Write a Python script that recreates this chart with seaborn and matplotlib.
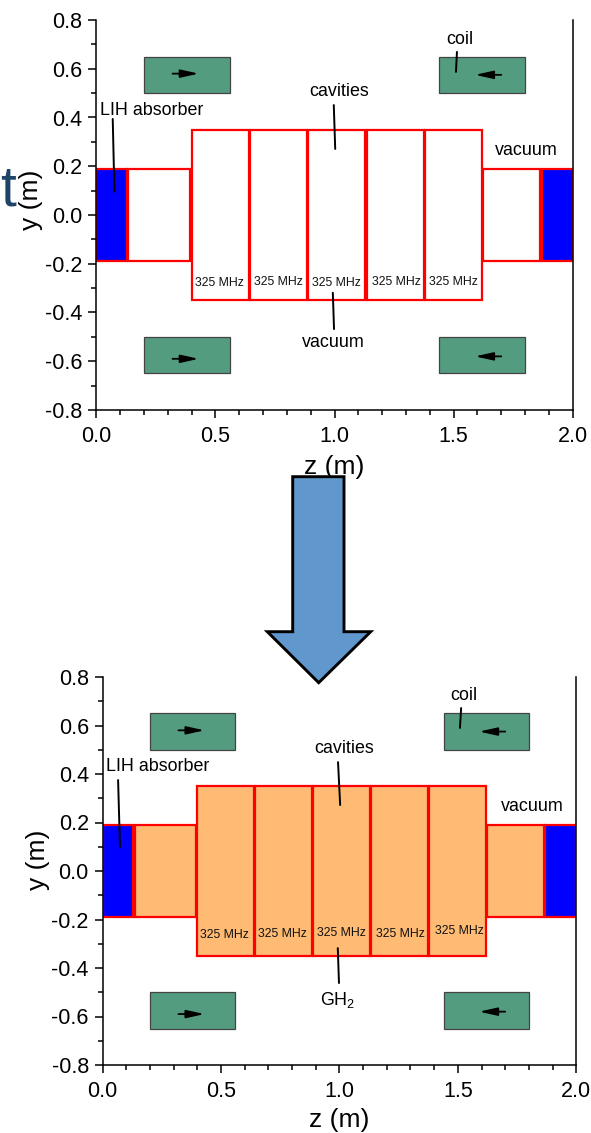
import matplotlib
matplotlib.use('Agg')
import matplotlib.pyplot as plt
import seaborn as sns
from matplotlib.patches import Polygon
from matplotlib.ticker import MultipleLocator

W, H = 591, 1133

# Geometry of the target, metres
absorber_z = [0.0, 1.87]
absorber_w = [0.13, 0.13]
pipe_z = [0.135, 1.625]
pipe_w = [0.258, 0.238]
cavity_z = [0.40, 0.645, 0.89, 1.135, 1.38]
cavity_w = [0.24, 0.24, 0.24, 0.24, 0.24]
coil_z = [0.20, 1.44, 0.20, 1.44]
coil_y = [0.50, 0.50, -0.65, -0.65]
coil_w = 0.36
coil_h = 0.15
pipe_r = 0.19
cavity_r = 0.35

# Current arrows: start z, end z, y
arrow_start = [0.32, 1.70, 0.32, 1.70]
arrow_end = [0.43, 1.59, 0.43, 1.59]
arrow_y = [0.58, 0.575, -0.59, -0.58]

freq_label = '325 MHz'
freq_z_top = [0.515, 0.763, 1.009, 1.258, 1.500]
freq_y_top = [-0.278, -0.275, -0.281, -0.275, -0.275]
freq_z_bottom = [0.515, 0.760, 1.007, 1.256, 1.505]
freq_y_bottom = [-0.264, -0.260, -0.254, -0.260, -0.247]

# text, z, y
labels_top = [('LIH absorber', 0.233, 0.427), ('coil', 1.527, 0.722), ('cavities', 1.019, 0.505),
              ('vacuum', 1.804, 0.263), ('vacuum', 0.994, -0.525)]
labels_bottom = [('LIH absorber', 0.234, 0.429), ('coil', 1.526, 0.722), ('cavities', 1.019, 0.507),
                 ('vacuum', 1.814, 0.264), ('GH$_2$', 0.994, -0.532)]

# leader lines: z0, y0, z1, y1
leaders_top = [(0.069, 0.394, 0.076, 0.096), (1.514, 0.669, 1.510, 0.587),
               (0.997, 0.451, 1.003, 0.271), (0.993, -0.319, 0.998, -0.468)]
leaders_bottom = [(0.065, 0.375, 0.073, 0.099), (1.514, 0.672, 1.509, 0.590),
                  (0.994, 0.449, 1.003, 0.272), (0.993, -0.318, 0.998, -0.462)]

sns.set_theme(style='ticks')
plt.rcParams['font.family'] = ['Liberation Sans', 'DejaVu Sans']
plt.rcParams['mathtext.fontset'] = 'custom'
plt.rcParams['mathtext.rm'] = 'Liberation Sans'
plt.rcParams['mathtext.default'] = 'regular'
plt.rcParams['axes.unicode_minus'] = False


def px_axes(fig, left, right, top, bottom):
    return fig.add_axes([left / W, 1 - bottom / H, (right - left) / W, (bottom - top) / H])


def draw_panel(ax, fill, freq_z, freq_y, labels, leaders, xlabel_pos, ylabel_pos):
    face = fill if fill else 'white'
    # cavities and beam pipes
    ax.bar(pipe_z, 2 * pipe_r, width=pipe_w, bottom=-pipe_r, align='edge',
           facecolor=face, edgecolor='red', linewidth=1.6, zorder=2)
    ax.bar(cavity_z, 2 * cavity_r, width=cavity_w, bottom=-cavity_r, align='edge',
           facecolor=face, edgecolor='red', linewidth=1.6, zorder=2)
    ax.bar(absorber_z, 2 * pipe_r, width=absorber_w, bottom=-pipe_r, align='edge',
           facecolor='#0000ff', edgecolor='red', linewidth=1.6, zorder=2)
    # coils
    ax.bar(coil_z, coil_h, width=coil_w, bottom=coil_y, align='edge',
           facecolor='#549c80', edgecolor='#444444', linewidth=0.9, zorder=2)
    for z0, z1, y in zip(arrow_start, arrow_end, arrow_y):
        ax.annotate('', xy=(z1, y), xytext=(z0, y), zorder=4,
                    arrowprops=dict(arrowstyle='-|>,head_length=0.9,head_width=0.2', color='black',
                                    lw=1.3, shrinkA=0, shrinkB=0))
    for z, y in zip(freq_z, freq_y):
        ax.text(z, y, freq_label, fontsize=8.8, color='#111111', ha='center', va='center', zorder=5)
    for text, z, y in labels:
        ax.text(z, y, text, fontsize=12.9, color='black', ha='center', va='center', zorder=5)
    for z0, y0, z1, y1 in leaders:
        ax.plot([z0, z1], [y0, y1], color='black', lw=1.4, zorder=4)

    ax.set_xlim(0, 2)
    ax.set_ylim(-0.8, 0.8)
    ax.xaxis.set_major_locator(MultipleLocator(0.5))
    ax.xaxis.set_minor_locator(MultipleLocator(0.1))
    ax.yaxis.set_major_locator(MultipleLocator(0.2))
    ax.yaxis.set_minor_locator(MultipleLocator(0.1))
    ax.xaxis.set_major_formatter('{x:.1f}')
    ax.yaxis.set_major_formatter('{x:.1f}')
    ax.tick_params(which='major', length=6, width=1.1, labelsize=15.5, colors='black', pad=4)
    ax.tick_params(axis='x', which='major', pad=5.5)
    ax.tick_params(which='minor', length=3.5, width=1.1, color='black')
    sns.despine(ax=ax, top=True, right=False)
    for side in ['left', 'right', 'bottom']:
        ax.spines[side].set_linewidth(1.1)
        ax.spines[side].set_color('black')
    ax.set_xlabel('z (m)', fontsize=19, color='black', va='center')
    ax.set_ylabel('y (m)', fontsize=19, color='black', va='center')
    ax.xaxis.set_label_coords(*xlabel_pos)
    ax.yaxis.set_label_coords(*ylabel_pos)
    ax.patch.set_alpha(0)


fig = plt.figure(figsize=(W / 100, H / 100), dpi=100, facecolor='white')

ax_top = px_axes(fig, 96.3, 572.7, 20, 410)
draw_panel(ax_top, None, freq_z_top, freq_y_top, labels_top, leaders_top, (0.499, -0.146), (-0.138, 0.54))

ax_bottom = px_axes(fig, 102.7, 576.2, 677, 1065)
draw_panel(ax_bottom, '#ffbb73', freq_z_bottom, freq_y_bottom, labels_bottom, leaders_bottom,
           (0.499, -0.142), (-0.136, 0.528))

# big arrow between the panels, figure pixels
arrow_px = [(292.7, 476.7), (344, 476.7), (344, 631.7), (370.7, 631.7),
            (318.7, 682.7), (267.3, 631.7), (292.7, 631.7)]
fig.patches.append(Polygon([(x / W, 1 - y / H) for x, y in arrow_px], closed=True, transform=fig.transFigure,
                           facecolor='#6097cc', edgecolor='black', linewidth=2.1, joinstyle='miter', figure=fig))

# stray letter from the slide title behind the figure
fig.text(0, 1 - 205 / H, 't', fontsize=41, color='#1f4468', ha='left', va='baseline')

fig.savefig('out.png', dpi=100)
